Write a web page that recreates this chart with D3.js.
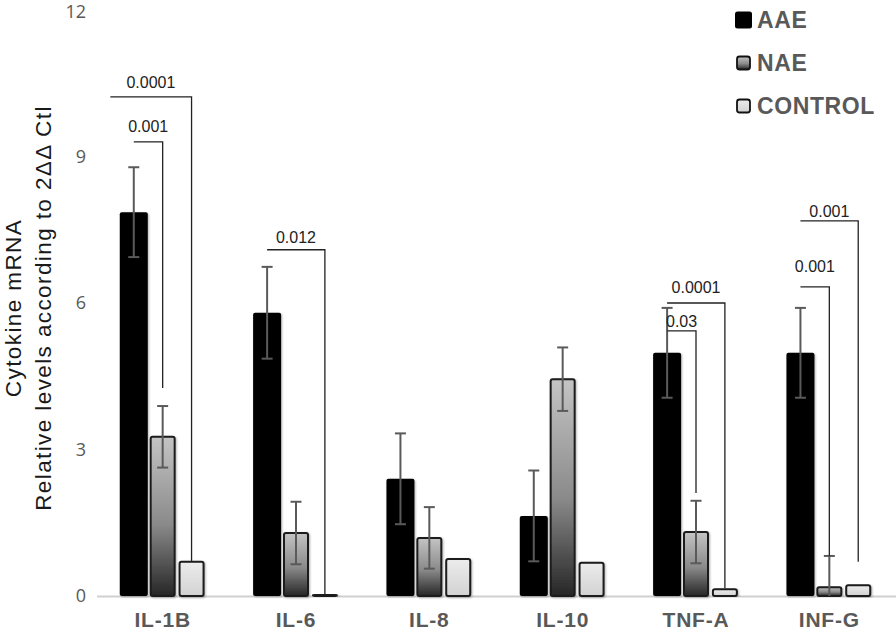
<!DOCTYPE html>
<html>
<head>
<meta charset="utf-8">
<script src="https://cdn.jsdelivr.net/npm/d3@7"></script>
<style>
  html, body { margin: 0; padding: 0; background: #fff; }
  svg { display: block; }
</style>
</head>
<body>
<svg id="chart" width="896" height="633"></svg>
<script>
// ---- data ----
const categories = ["IL-1B", "IL-6", "IL-8", "IL-10", "TNF-A", "INF-G"];
const seriesNames = ["AAE", "NAE", "CONTROL"];
const aaeValues = [7.86, 5.80, 2.40, 1.64, 4.98, 4.98];
const aaeErrors = [0.92, 0.94, 0.93, 0.93, 0.92, 0.92];
const naeValues = [3.26, 1.29, 1.19, 4.44, 1.31, 0.18];
const naeErrors = [0.63, 0.64, 0.63, 0.65, 0.64, 0.64];
const controlValues = [0.70, 0.02, 0.76, 0.68, 0.14, 0.22];
const yTicks = [0, 3, 6, 9, 12];
// significance brackets: category, from-series, to-series, bracket level, label level, end value, label
const brackets = [
  { cat: "IL-1B", from: "AAE", to: "CONTROL", level: 10.22, labelAt: 10.40, end: 0.70, label: "0.0001", wide: true },
  { cat: "IL-1B", from: "AAE", to: "NAE", level: 9.30, labelAt: 9.50, end: 4.26, label: "0.001" },
  { cat: "IL-6", from: "AAE", to: "CONTROL", level: 7.09, labelAt: 7.23, end: 0.02, label: "0.012" },
  { cat: "TNF-A", from: "AAE", to: "NAE", level: 5.43, labelAt: 5.51, end: 2.11, label: "0.03" },
  { cat: "TNF-A", from: "AAE", to: "CONTROL", level: 6.00, labelAt: 6.21, end: 0.16, label: "0.0001" },
  { cat: "INF-G", from: "AAE", to: "NAE", level: 6.33, labelAt: 6.64, end: 0.82, label: "0.001" },
  { cat: "INF-G", from: "AAE", to: "CONTROL", level: 7.68, labelAt: 7.76, end: 0.70, label: "0.001" }
];

const seriesData = [
  { name: "AAE", values: aaeValues, errors: aaeErrors },
  { name: "NAE", values: naeValues, errors: naeErrors },
  { name: "CONTROL", values: controlValues, errors: null }
];

// ---- layout ----
const svg = d3.select("#chart");
const x0 = d3.scaleBand().domain(categories).range([96, 896]).paddingInner(0.35).paddingOuter(0.175);
const x1 = d3.scaleBand().domain(seriesNames).range([0, x0.bandwidth()]).paddingInner(0.1).paddingOuter(0.05);
const y = d3.scaleLinear().domain([0, 12]).range([596, 10]);

const defs = svg.append("defs");
const gN = defs.append("linearGradient").attr("id", "gradNAE").attr("x1", 0).attr("y1", 0).attr("x2", 0).attr("y2", 1);
gN.append("stop").attr("offset", "0%").attr("stop-color", "#c4c4c4");
gN.append("stop").attr("offset", "55%").attr("stop-color", "#8a8a8a");
gN.append("stop").attr("offset", "100%").attr("stop-color", "#262626");
const gC = defs.append("linearGradient").attr("id", "gradCTRL").attr("x1", 0).attr("y1", 0).attr("x2", 0).attr("y2", 1);
gC.append("stop").attr("offset", "0%").attr("stop-color", "#ececec");
gC.append("stop").attr("offset", "100%").attr("stop-color", "#d2d2d2");
const f = defs.append("filter").attr("id", "shadow").attr("x", "-30%").attr("y", "-10%").attr("width", "160%").attr("height", "120%");
f.append("feDropShadow").attr("dx", 1).attr("dy", 1).attr("stdDeviation", 1.2).attr("flood-color", "#000").attr("flood-opacity", 0.3);

const fills = { AAE: "#000", NAE: "url(#gradNAE)", CONTROL: "url(#gradCTRL)" };

// y tick labels
svg.append("g").selectAll("text").data(yTicks).join("text")
  .attr("x", 86).attr("y", d => y(d) + (d === 12 ? 2 : 0)).attr("dy", "0.35em")
  .attr("text-anchor", "end")
  .attr("font-family", "'Open Sans', 'Noto Sans', sans-serif").attr("font-size", 18)
  .attr("fill", "#595959").text(d => d);

// baseline
svg.append("line").attr("x1", 97).attr("x2", 896).attr("y1", y(0) + 0.5).attr("y2", y(0) + 0.5)
  .attr("stroke", "#d0d0d0").attr("stroke-width", 2);

// bars
const groups = svg.append("g").selectAll("g").data(categories).join("g")
  .attr("transform", d => `translate(${x0(d)},0)`);

seriesData.forEach(s => {
  groups.append("rect")
    .attr("x", (d) => x1(s.name) + (s.name === "AAE" ? -1 : 1))
    .attr("width", s.name === "AAE" ? x1.bandwidth() + 2 : x1.bandwidth() - 2)
    .attr("y", (d, i) => y(s.values[i]))
    .attr("height", (d, i) => Math.max(0, y(0) - y(s.values[i])))
    .attr("rx", 2)
    .attr("fill", fills[s.name])
    .attr("stroke", s.name === "AAE" ? "#000" : "#1a1a1a")
    .attr("stroke-width", s.name === "AAE" ? 0 : 2)
    .attr("filter", "url(#shadow)");
});

// error bars
seriesData.filter(s => s.errors).forEach(s => {
  const cx = x1(s.name) + x1.bandwidth() / 2;
  groups.each(function (d, i) {
    const g = d3.select(this);
    const v = s.values[i], e = s.errors[i];
    const top = v + e, bot = Math.max(0, v - e);
    const col = "#5a5a5a";
    g.append("line").attr("x1", cx).attr("x2", cx).attr("y1", y(top)).attr("y2", y(bot))
      .attr("stroke", col).attr("stroke-width", 2);
    g.append("line").attr("x1", cx - 5.5).attr("x2", cx + 5.5).attr("y1", y(top)).attr("y2", y(top))
      .attr("stroke", col).attr("stroke-width", 2);
    if (v - e > 0) {
      g.append("line").attr("x1", cx - 5.5).attr("x2", cx + 5.5).attr("y1", y(bot)).attr("y2", y(bot))
        .attr("stroke", col).attr("stroke-width", 2);
    }
  });
});

// significance brackets
const bg = svg.append("g");
brackets.forEach(b => {
  const base = x0(b.cat);
  const xs = b.wide ? base - 9 : base + x1(b.from) + x1.bandwidth() / 2;
  const xe = base + x1(b.to) + x1.bandwidth() / 2;
  bg.append("path")
    .attr("d", `M${xs},${y(b.level)}H${xe}V${y(b.end)}`)
    .attr("fill", "none").attr("stroke", "#222").attr("stroke-width", 1.3);
  bg.append("text")
    .attr("x", (xs + xe) / 2).attr("y", y(b.labelAt))
    .attr("text-anchor", "middle")
    .attr("font-family", "'Liberation Sans', Arial, sans-serif").attr("font-size", 16)
    .attr("fill", "#222").text(b.label);
});

// category labels
svg.append("g").selectAll("text").data(categories).join("text")
  .attr("x", d => x0(d) + x0.bandwidth() / 2).attr("y", 627)
  .attr("text-anchor", "middle")
  .attr("font-family", "'Liberation Sans', Arial, sans-serif").attr("font-weight", "bold")
  .attr("font-size", 21).attr("letter-spacing", 0.8).attr("fill", "#595959").text(d => d);

// y-axis title
const titleLines = ["Cytokine mRNA", "Relative levels according to 2ΔΔ Ctl"];
svg.append("g").selectAll("text").data(titleLines).join("text")
  .attr("transform", (d, i) => `translate(${i === 0 ? 21 : 51},308) rotate(-90)`)
  .attr("text-anchor", "middle")
  .attr("font-family", "'Liberation Sans', Arial, sans-serif").attr("font-size", 22.5)
  .attr("letter-spacing", 1.4)
  .attr("fill", "#1a1a1a").text(d => d);

// legend
const legendFills = { AAE: "#000", NAE: "url(#gradNAE)", CONTROL: "url(#gradCTRL)" };
const lg = svg.append("g").selectAll("g").data(seriesNames).join("g")
  .attr("transform", (d, i) => `translate(0,${20 + i * 43})`);
lg.append("rect")
  .attr("x", d => d === "AAE" ? 735 : 737)
  .attr("y", d => d === "AAE" ? -8.5 : -6.5)
  .attr("width", d => d === "AAE" ? 17 : 13)
  .attr("height", d => d === "AAE" ? 17 : 13)
  .attr("rx", 2.5)
  .attr("fill", d => legendFills[d])
  .attr("stroke", "#111").attr("stroke-width", d => d === "AAE" ? 0 : 1.8);
lg.append("text")
  .attr("x", 757).attr("y", 0).attr("dy", "0.36em")
  .attr("font-family", "'Liberation Sans', Arial, sans-serif").attr("font-weight", "bold")
  .attr("font-size", 23).attr("letter-spacing", 0.6).attr("fill", "#595959").text(d => d);
</script>
</body>
</html>
